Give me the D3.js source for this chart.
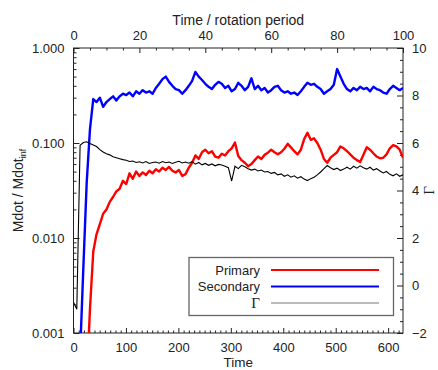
<!DOCTYPE html>
<html>
<head>
<meta charset="utf-8">
<script src="https://cdn.jsdelivr.net/npm/d3@7/dist/d3.min.js"></script>
<style>
  body { margin: 0; background: #fff; }
  text { font-family: "Liberation Sans", Arial, Helvetica, sans-serif; fill: #222; }
</style>
</head>
<body>
<svg id="chart" width="438" height="370"></svg>
<script>
// one sample per rotation period (period = 2*pi time units)
const periods = d3.range(0, 101);

// accretion rate onto the primary, Mdot / Mdot_inf
const primary = [
  0.0003, 0.0003, 0.0003, 0.0003, 0.0003, 0.0018, 0.0072, 0.011, 0.014, 0.018,
  0.020, 0.024, 0.027, 0.031, 0.033, 0.040, 0.037, 0.048, 0.042, 0.050,
  0.045, 0.049, 0.046, 0.051, 0.048, 0.053, 0.050, 0.055, 0.052, 0.056,
  0.051, 0.049, 0.052, 0.045, 0.047, 0.055, 0.062, 0.074, 0.068, 0.080,
  0.085, 0.078, 0.082, 0.072, 0.070, 0.077, 0.074, 0.082, 0.088, 0.101,
  0.073, 0.066, 0.062, 0.057, 0.060, 0.066, 0.072, 0.068, 0.075, 0.079,
  0.085, 0.080, 0.076, 0.080, 0.087, 0.098, 0.090, 0.082, 0.076, 0.085,
  0.110, 0.128, 0.108, 0.112, 0.100, 0.085, 0.068, 0.062, 0.070, 0.075,
  0.080, 0.092, 0.088, 0.082, 0.076, 0.070, 0.066, 0.063, 0.075, 0.090,
  0.085, 0.078, 0.072, 0.069, 0.070, 0.076, 0.088, 0.095, 0.092, 0.085,
  0.070
];

// accretion rate onto the secondary
const secondary = [
  0.0002, 0.0002, 0.0006, 0.005, 0.038, 0.14, 0.29, 0.27, 0.30, 0.24,
  0.27, 0.29, 0.31, 0.28, 0.31, 0.33, 0.32, 0.34, 0.31, 0.35,
  0.33, 0.36, 0.34, 0.35, 0.33, 0.38, 0.42, 0.47, 0.50, 0.44,
  0.40, 0.37, 0.36, 0.33, 0.36, 0.40, 0.45, 0.56, 0.50, 0.46,
  0.42, 0.39, 0.37, 0.41, 0.44, 0.42, 0.38, 0.40, 0.35, 0.37,
  0.43, 0.40, 0.36, 0.39, 0.48, 0.37, 0.40, 0.36, 0.38, 0.34,
  0.36, 0.39, 0.40, 0.36, 0.34, 0.35, 0.33, 0.34, 0.32, 0.35,
  0.39, 0.43, 0.41, 0.42, 0.39, 0.37, 0.33, 0.35, 0.37, 0.41,
  0.60, 0.50, 0.42, 0.37, 0.35, 0.38, 0.36, 0.39, 0.37, 0.38,
  0.35, 0.39, 0.37, 0.36, 0.34, 0.33, 0.37, 0.40, 0.38, 0.36,
  0.38
];

// Gamma, read on the right axis
const gamma = [
  -0.7, -1.0, 5.9, 6.02, 6.05, 5.98, 5.92, 5.85, 5.72, 5.62,
  5.55, 5.50, 5.42, 5.38, 5.34, 5.30, 5.27, 5.22, 5.24, 5.18,
  5.21, 5.16, 5.22, 5.14, 5.18, 5.20, 5.15, 5.22, 5.17, 5.20,
  5.14, 5.19, 5.23, 5.16, 5.20, 5.15, 5.22, 5.11, 5.18, 5.08,
  5.14, 5.06, 5.12, 5.04, 5.10, 5.07, 5.02, 4.96, 4.40, 5.02,
  4.92, 5.06, 5.00, 4.92, 4.86, 4.90, 4.82, 4.86, 4.78, 4.80,
  4.72, 4.76, 4.66, 4.70, 4.60, 4.66, 4.56, 4.62, 4.52, 4.58,
  4.48, 4.42, 4.50, 4.56, 4.66, 4.78, 4.92, 5.05, 4.96, 4.88,
  4.94, 4.84, 4.90, 4.98, 4.90, 5.02, 4.94, 5.04, 4.96, 4.90,
  4.98, 4.86, 4.92, 4.82, 4.74, 4.80, 4.68, 4.62, 4.70, 4.60,
  4.66
];

const timeTicks = [0, 100, 200, 300, 400, 500, 600];
const periodTicks = [0, 20, 40, 60, 80, 100];
const mdotTicks = [0.001, 0.01, 0.1, 1];
const gammaTicks = [-2, 0, 2, 4, 6, 8, 10];

const legendItems = [
  { name: 'Primary', color: '#ff0000', width: 2 },
  { name: 'Secondary', color: '#0000ff', width: 2 },
  { name: '\u0393', color: '#777', width: 1 }
];

const tMax = 200 * Math.PI; // 100 rotation periods
const box = { left: 73.5, right: 403, top: 48, bottom: 333 };

const svg = d3.select('#chart');

const x = d3.scaleLinear().domain([0, tMax]).range([box.left, box.right]);
const xTop = d3.scaleLinear().domain([0, 100]).range([box.left, box.right]);
const y = d3.scaleLog().domain([0.001, 1]).range([box.bottom, box.top]);
const yR = d3.scaleLinear().domain([-2, 10]).range([box.bottom, box.top]);

svg.append('clipPath').attr('id', 'plotClip')
  .append('rect')
  .attr('x', box.left).attr('y', box.top)
  .attr('width', box.right - box.left).attr('height', box.bottom - box.top);

// axes, ticks pointing into the plot
function styleAxis(g) {
  g.select('.domain').remove();
  g.selectAll('line').attr('stroke', '#222');
  g.selectAll('text').attr('font-size', 13).attr('fill', '#222');
}

const minorTime = d3.range(0, tMax, 10).filter(v => v % 100 !== 0);
svg.append('g').attr('transform', `translate(0,${box.bottom})`)
  .call(d3.axisBottom(x).tickValues(minorTime).tickSize(-2.5).tickFormat(''))
  .call(styleAxis);
svg.append('g').attr('transform', `translate(0,${box.bottom})`)
  .call(d3.axisBottom(x).tickValues(timeTicks).tickSize(-5).tickPadding(9.5).tickFormat(d3.format('d')))
  .call(styleAxis);

const minorPeriod = d3.range(0, 101, 5).filter(v => v % 20 !== 0);
svg.append('g').attr('transform', `translate(0,${box.top})`)
  .call(d3.axisTop(xTop).tickValues(minorPeriod).tickSize(-2.5).tickFormat(''))
  .call(styleAxis);
svg.append('g').attr('transform', `translate(0,${box.top})`)
  .call(d3.axisTop(xTop).tickValues(periodTicks).tickSize(-5).tickPadding(8).tickFormat(d3.format('d')))
  .call(styleAxis);

const minorMdot = [];
[0.001, 0.01, 0.1].forEach(d => { for (let k = 2; k < 10; k++) minorMdot.push(d * k); });
svg.append('g').attr('transform', `translate(${box.left},0)`)
  .call(d3.axisLeft(y).tickValues(minorMdot).tickSize(-3).tickFormat(''))
  .call(styleAxis);
svg.append('g').attr('transform', `translate(${box.left},0)`)
  .call(d3.axisLeft(y).tickValues(mdotTicks).tickSize(-6).tickPadding(9).tickFormat(d3.format('.3f')))
  .call(styleAxis);

const minorGamma = d3.range(-2, 10.01, 0.5).filter(v => v % 2 !== 0);
svg.append('g').attr('transform', `translate(${box.right},0)`)
  .call(d3.axisRight(yR).tickValues(minorGamma).tickSize(-3).tickFormat(''))
  .call(styleAxis);
svg.append('g').attr('transform', `translate(${box.right},0)`)
  .call(d3.axisRight(yR).tickValues(gammaTicks).tickSize(-6).tickPadding(9).tickFormat(d3.format('d')))
  .call(styleAxis);

// frame
svg.append('rect')
  .attr('x', box.left).attr('y', box.top)
  .attr('width', box.right - box.left).attr('height', box.bottom - box.top)
  .attr('fill', 'none').attr('stroke', '#222').attr('stroke-width', 1);

// series
const plot = svg.append('g').attr('clip-path', 'url(#plotClip)');
const lineL = d3.line().x(d => x(d[0] * 2 * Math.PI)).y(d => y(d[1]));
const lineR = d3.line().x(d => x(d[0] * 2 * Math.PI)).y(d => yR(d[1]));

plot.append('path')
  .datum(periods.map((p, i) => [p, primary[i]]))
  .attr('d', lineL).attr('fill', 'none')
  .attr('stroke', '#ff0000').attr('stroke-width', 2.4).attr('stroke-linejoin', 'round');
plot.append('path')
  .datum(periods.map((p, i) => [p, secondary[i]]))
  .attr('d', lineL).attr('fill', 'none')
  .attr('stroke', '#0000ff').attr('stroke-width', 2.4).attr('stroke-linejoin', 'round');
plot.append('path')
  .datum(periods.map((p, i) => [p, gamma[i]]))
  .attr('d', lineR).attr('fill', 'none')
  .attr('stroke', '#000').attr('stroke-width', 1.1);

// titles
svg.append('text').attr('x', (box.left + box.right) / 2).attr('y', 25)
  .attr('text-anchor', 'middle').attr('font-size', 14).text('Time / rotation period');
svg.append('text').attr('x', (box.left + box.right) / 2).attr('y', 367)
  .attr('text-anchor', 'middle').attr('font-size', 13.5).text('Time');

const yTitle = svg.append('text')
  .attr('transform', `translate(23,${(box.top + box.bottom) / 2}) rotate(-90)`)
  .attr('text-anchor', 'middle').attr('font-size', 14);
yTitle.append('tspan').text('Mdot / Mdot');
yTitle.append('tspan').attr('font-size', 9).attr('dy', 3).text('inf');

svg.append('text')
  .attr('transform', `translate(434,${(box.top + box.bottom) / 2}) rotate(-90)`)
  .attr('text-anchor', 'middle').attr('font-size', 15)
  .style('font-family', '"Liberation Serif", "DejaVu Serif", serif')
  .text('\u0393');

// legend
const lg = svg.append('g');
lg.append('rect')
  .attr('x', 189).attr('y', 257.5).attr('width', 204.5).attr('height', 58)
  .attr('fill', '#fff').attr('stroke', '#666').attr('stroke-width', 1.3);
legendItems.forEach((item, i) => {
  const ly = 270 + i * 16.5;
  lg.append('text').attr('x', 260).attr('y', ly + 4.5)
    .attr('text-anchor', 'end').attr('font-size', i === 2 ? 15 : 13)
    .style('font-family', i === 2 ? '"Liberation Serif", "DejaVu Serif", serif' : null)
    .text(item.name);
  lg.append('line')
    .attr('x1', 271).attr('x2', 379).attr('y1', ly).attr('y2', ly)
    .attr('stroke', item.color).attr('stroke-width', item.width);
});
</script>
</body>
</html>
